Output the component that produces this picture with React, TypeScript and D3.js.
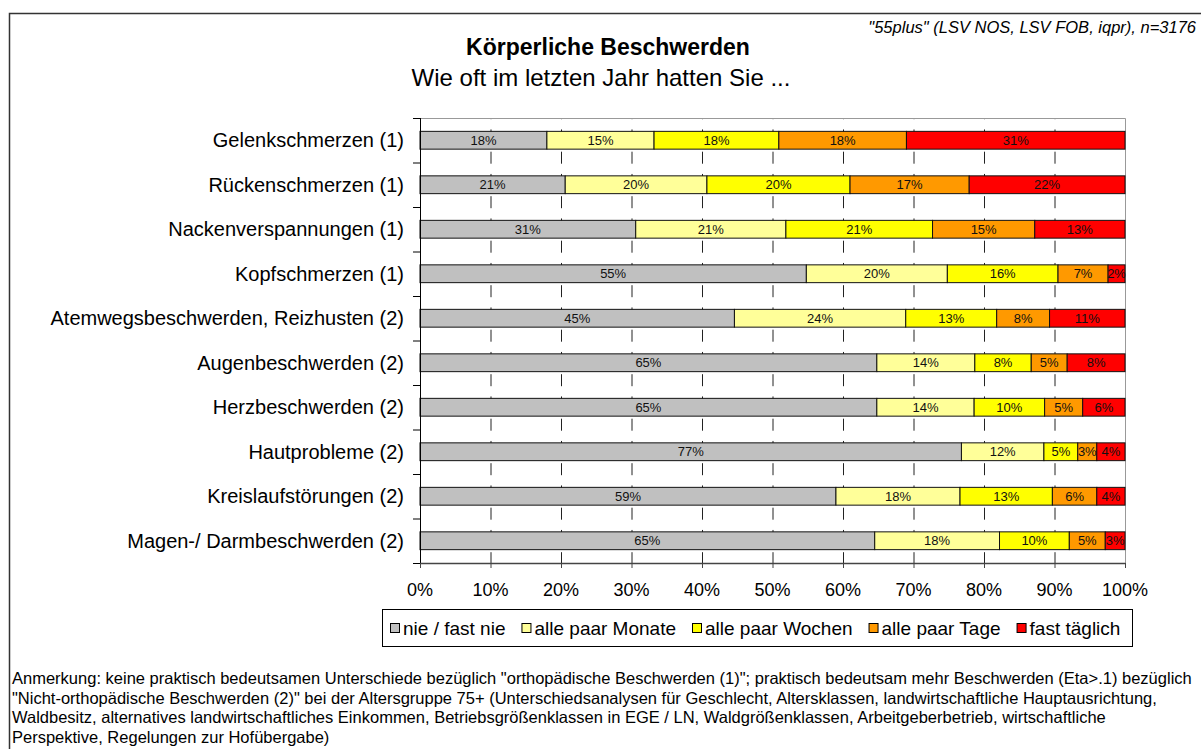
import React, { useEffect, useRef } from "react";
import * as d3 from "d3";

const categories = [
  "Gelenkschmerzen (1)",
  "Rückenschmerzen (1)",
  "Nackenverspannungen (1)",
  "Kopfschmerzen (1)",
  "Atemwegsbeschwerden, Reizhusten (2)",
  "Augenbeschwerden (2)",
  "Herzbeschwerden (2)",
  "Hautprobleme (2)",
  "Kreislaufstörungen (2)",
  "Magen-/ Darmbeschwerden (2)",
];

const seriesNames = ["nie / fast nie", "alle paar Monate", "alle paar Wochen", "alle paar Tage", "fast täglich"];
const seriesColors = ["#C0C0C0", "#FFFF99", "#FFFF00", "#FF9900", "#FF0000"];

const nieFastNie = [18.0, 20.6, 30.6, 54.8, 44.6, 64.8, 64.8, 76.8, 59.0, 64.5];
const allePaarMonate = [15.2, 20.1, 21.3, 20.0, 24.3, 13.9, 13.8, 11.7, 17.6, 17.7];
const allePaarWochen = [17.7, 20.3, 20.8, 15.7, 12.9, 8.0, 10.0, 4.8, 13.1, 9.9];
const allePaarTage = [18.1, 16.9, 14.5, 7.1, 7.5, 5.1, 5.4, 2.7, 6.3, 5.1];
const fastTaeglich = [31.0, 22.1, 12.8, 2.4, 10.7, 8.2, 6.0, 4.0, 4.0, 2.8];

const xTicks = [0, 10, 20, 30, 40, 50, 60, 70, 80, 90, 100];

const title = "Körperliche Beschwerden";
const subtitle = "Wie oft im letzten Jahr hatten Sie ...";
const source = "\"55plus\" (LSV NOS, LSV FOB, iqpr), n=3176";
const noteLines = [
  "Anmerkung: keine praktisch bedeutsamen Unterschiede bezüglich \"orthopädische Beschwerden (1)\"; praktisch bedeutsam mehr Beschwerden (Eta>.1) bezüglich",
  "\"Nicht-orthopädische Beschwerden (2)\" bei der Altersgruppe 75+ (Unterschiedsanalysen für Geschlecht, Altersklassen, landwirtschaftliche Hauptausrichtung,",
  "Waldbesitz, alternatives landwirtschaftliches Einkommen, Betriebsgrößenklassen in EGE / LN, Waldgrößenklassen, Arbeitgeberbetrieb, wirtschaftliche",
  "Perspektive, Regelungen zur Hofübergabe)",
];

const FONT = "'Liberation Sans', Arial, Helvetica, sans-serif";

const App: React.FC = () => {
  const ref = useRef<SVGSVGElement>(null);

  useEffect(() => {
    if (!ref.current) return;
    const svg = d3.select(ref.current);
    svg.selectAll("*").remove();

    const width = 1201;
    const height = 749;
    svg.attr("width", width).attr("height", height).style("font-family", FONT);

    svg.append("rect").attr("width", width).attr("height", height).attr("fill", "#fff");

    // outer frame (runs off the picture to the right and bottom)
    svg.append("rect")
      .attr("x", 9.5).attr("y", 13.5)
      .attr("width", 1400).attr("height", 900)
      .attr("fill", "none").attr("stroke", "#333").attr("stroke-width", 1.5);

    const plot = { left: 420, right: 1125, top: 118, bottom: 563 };

    const x = d3.scaleLinear().domain([0, 100]).range([plot.left, plot.right]);
    const y = d3.scaleBand<string>()
      .domain(categories)
      .range([plot.top, plot.bottom])
      .paddingInner(0.6)
      .paddingOuter(0.3);

    const rows = categories.map((c, i) => ({
      cat: c,
      values: [nieFastNie[i], allePaarMonate[i], allePaarWochen[i], allePaarTage[i], fastTaeglich[i]],
    }));

    // dashed gridlines
    const half = y.step() / 2;
    svg.append("g")
      .selectAll("line")
      .data(xTicks.filter((t) => t > 0 && t < 100))
      .enter().append("line")
      .attr("x1", (d) => x(d) + 0.5).attr("x2", (d) => x(d) + 0.5)
      .attr("y1", plot.top).attr("y2", plot.bottom)
      .attr("stroke", "#222").attr("stroke-width", 1)
      .attr("stroke-dasharray", `12,${half - 12}`)
      .attr("stroke-dashoffset", 10.8);

    // plot border top/right
    svg.append("path")
      .attr("d", `M${plot.left},${plot.top + 0.5}H${plot.right + 0.5}V${plot.bottom + 5}`)
      .attr("fill", "none").attr("stroke", "#999").attr("stroke-width", 1);

    // bars
    const rowG = svg.append("g")
      .selectAll("g")
      .data(rows)
      .enter().append("g")
      .attr("transform", (d) => `translate(0,${y(d.cat)})`);

    rowG.each(function (row) {
      const g = d3.select(this);
      let acc = 0;
      const segs = row.values.map((v, k) => {
        const s = { start: acc, end: acc + v, v, k };
        acc += v;
        return s;
      });
      g.selectAll("rect")
        .data(segs)
        .enter().append("rect")
        .attr("x", (s) => x(s.start))
        .attr("width", (s) => x(s.end) - x(s.start))
        .attr("height", y.bandwidth())
        .attr("fill", (s) => seriesColors[s.k])
        .attr("stroke", "#111").attr("stroke-width", 1);
      g.selectAll("text")
        .data(segs)
        .enter().append("text")
        .attr("x", (s) => (x(s.start) + x(s.end)) / 2)
        .attr("y", y.bandwidth() / 2)
        .attr("dy", "0.36em")
        .attr("text-anchor", "middle")
        .attr("font-size", 13)
        .attr("fill", "#111")
        .text((s) => `${Math.round(s.v)}%`);
    });

    // left axis
    svg.append("line")
      .attr("x1", plot.left + 0.5).attr("x2", plot.left + 0.5)
      .attr("y1", plot.top).attr("y2", plot.bottom + 5)
      .attr("stroke", "#000");
    const bounds = categories.map((c) => (y(c) ?? 0) - y.step() * 0.3).concat([plot.bottom]);
    svg.append("g")
      .selectAll("line")
      .data(bounds)
      .enter().append("line")
      .attr("x1", plot.left - 7).attr("x2", plot.left)
      .attr("y1", (d) => d + 0.5).attr("y2", (d) => d + 0.5)
      .attr("stroke", "#000");

    // category labels
    svg.append("g")
      .selectAll("text")
      .data(categories)
      .enter().append("text")
      .attr("x", 404)
      .attr("y", (d) => (y(d) ?? 0) + y.bandwidth() / 2)
      .attr("dy", "0.36em")
      .attr("text-anchor", "end")
      .attr("font-size", 20)
      .text((d) => d);

    // bottom axis
    svg.append("line")
      .attr("x1", plot.left).attr("x2", plot.right + 0.5)
      .attr("y1", plot.bottom + 0.5).attr("y2", plot.bottom + 0.5)
      .attr("stroke", "#444").attr("stroke-width", 1.5);
    svg.append("g")
      .selectAll("line")
      .data(xTicks)
      .enter().append("line")
      .attr("x1", (d) => x(d) + 0.5).attr("x2", (d) => x(d) + 0.5)
      .attr("y1", plot.bottom).attr("y2", plot.bottom + 5)
      .attr("stroke", "#444");
    svg.append("g")
      .selectAll("text")
      .data(xTicks)
      .enter().append("text")
      .attr("x", (d) => x(d))
      .attr("y", 596)
      .attr("text-anchor", "middle")
      .attr("font-size", 18)
      .text((d) => `${d}%`);

    // legend
    const legend = svg.append("g");
    legend.append("rect")
      .attr("x", 382.5).attr("y", 609.5)
      .attr("width", 750).attr("height", 37)
      .attr("fill", "#fff").attr("stroke", "#000");
    let lx = 390;
    seriesNames.forEach((name, k) => {
      legend.append("rect")
        .attr("x", lx + 0.5).attr("y", 623.5)
        .attr("width", 9).attr("height", 9)
        .attr("fill", seriesColors[k]).attr("stroke", "#000");
      const t = legend.append("text")
        .attr("x", lx + 13)
        .attr("y", 628)
        .attr("dy", "0.36em")
        .attr("font-size", 19)
        .text(name);
      const w = (t.node() as SVGTextElement).getComputedTextLength();
      lx = lx + 13 + w + 16;
    });

    // titles
    svg.append("text")
      .attr("x", 608).attr("y", 55)
      .attr("text-anchor", "middle")
      .attr("font-size", 23).attr("font-weight", "bold")
      .text(title);
    svg.append("text")
      .attr("x", 601).attr("y", 86)
      .attr("text-anchor", "middle")
      .attr("font-size", 24)
      .text(subtitle);
    svg.append("text")
      .attr("x", 1196).attr("y", 33)
      .attr("text-anchor", "end")
      .attr("font-size", 16.5).attr("font-style", "italic")
      .text(source);

    // note
    svg.append("g")
      .selectAll("text")
      .data(noteLines)
      .enter().append("text")
      .attr("x", 12)
      .attr("y", (d, i) => 684 + i * 19.5)
      .attr("font-size", 16.5)
      .text((d) => d);
  }, []);

  return <svg ref={ref} style={{ position: "absolute", left: 0, top: 0, display: "block" }}></svg>;
};

export default App;
